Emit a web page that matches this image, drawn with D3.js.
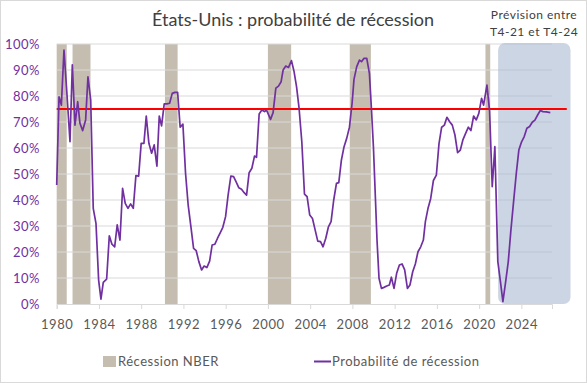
<!DOCTYPE html>
<meta charset="utf-8">
<html>
<head>
<script src="https://d3js.org/d3.v7.min.js"></script>
<style>
  body { margin: 0; background: #fff; }
  svg text { font-family: "Lato", "Open Sans", sans-serif; }
</style>
</head>
<body>
<div id="my_dataviz"></div>
<script>
// quarterly readings: decimal year -> probability (%)
const years = [1980.00,1980.22,1980.44,1980.69,1980.95,1981.26,1981.48,1981.73,1981.99,1982.20,1982.46,1982.74,1982.96,1983.22,1983.46,1983.72,1983.97,1984.19,1984.41,1984.73,1984.98,1985.23,1985.49,1985.73,1985.99,1986.24,1986.49,1986.75,1987.00,1987.25,1987.50,1987.76,1988.00,1988.26,1988.48,1988.73,1988.99,1989.23,1989.49,1989.71,1989.93,1990.18,1990.44,1990.69,1990.94,1991.19,1991.45,1991.69,1991.95,1992.20,1992.45,1992.71,1992.96,1993.21,1993.46,1993.72,1993.96,1994.22,1994.48,1994.72,1994.98,1995.23,1995.48,1995.73,1995.99,1996.23,1996.49,1996.75,1996.99,1997.25,1997.50,1997.75,1997.98,1998.22,1998.48,1998.73,1998.92,1999.17,1999.42,1999.68,1999.87,2000.25,2000.49,2000.75,2001.00,2001.25,2001.44,2001.69,2001.95,2002.23,2002.48,2002.71,2002.95,2003.21,2003.46,2003.71,2003.96,2004.22,2004.47,2004.72,2004.98,2005.22,2005.48,2005.73,2005.98,2006.23,2006.49,2006.71,2006.96,2007.21,2007.46,2007.72,2007.97,2008.15,2008.41,2008.67,2008.86,2009.10,2009.36,2009.61,2009.80,2009.99,2010.18,2010.33,2010.52,2010.75,2010.99,2011.25,2011.50,2011.69,2011.94,2012.19,2012.45,2012.70,2012.95,2013.21,2013.45,2013.71,2013.96,2014.21,2014.47,2014.72,2014.91,2015.16,2015.41,2015.67,2015.95,2016.20,2016.45,2016.71,2016.95,2017.21,2017.46,2017.71,2017.96,2018.22,2018.46,2018.72,2018.98,2019.22,2019.48,2019.73,2019.97,2020.23,2020.42,2020.74,2020.99,2021.24,2021.49,2021.77,2022.00,2022.25,2022.50,2022.76,2023.01,2023.26,2023.52,2023.76,2024.02,2024.27,2024.52,2024.78,2025.03,2025.28,2025.54,2025.79,2026.04,2026.36,2026.74];
const probs = [45.8,79.7,76.5,97.7,82,62.4,92,68.8,77.8,69.5,66.7,70.8,87.4,78.5,36.8,31,9.2,1.9,8.3,9.6,26.2,23,22,30.4,24.6,44.5,38.7,36.8,38.5,36.8,49.4,49.2,61.8,61.8,72.3,61.8,58,61.2,53,72.3,68.5,77,77,77.2,81,81.4,81.4,68,69.2,50.3,38,29.7,21.4,20.5,16.3,13.1,14.6,14,16.5,22.7,23,25.3,27.4,29.5,33.6,41.9,49.2,49,47,44.7,44.1,42.8,41.9,50.5,52.2,56.9,56.4,73.1,74.6,74,74.6,71,73.6,83,83.8,85.5,90,91.5,91,93.6,89.3,83.6,75.3,62.4,42.3,41.3,34.2,32.9,28.5,24.2,24,22,25.3,29.7,31.7,40,46.4,46.7,55.4,60.5,63.7,68,77.2,86.4,91.3,93.8,93.2,94.5,94.5,88.7,75.3,60.5,40.6,24.6,9.9,6,6.4,6.9,7.3,10.3,6,11.8,15,15.4,13.1,6,7.3,12.4,15.4,20.1,22,24.6,31.7,36.8,40.5,47.5,49.6,61.7,68,68.8,71.8,70.1,68.8,65,58.2,59.2,63.1,65.6,68,66.7,72.3,70.8,73.3,79.1,76.5,84.2,74.2,45.1,60.5,16.3,9.2,0.9,8.2,16.3,28.5,39.3,50.3,59.2,62.4,64.4,67.6,68.3,69.9,70.7,72.7,74.4,74,73.9,73.6];

// NBER recessions as drawn (start, end)
const recStart = [1980.0, 1981.5, 1990.25, 2000.0, 2007.75, 2020.6];
const recEnd   = [1980.95, 1983.2, 1991.45, 2002.2, 2009.75, 2021.05];

const threshold = 75;
const forecastStart = 2021.8, forecastEnd = 2028.65;
const yTicks = [0,10,20,30,40,50,60,70,80,90,100];
const xTicks = [1980,1984,1988,1992,1996,2000,2004,2008,2012,2016,2020,2024];

const W = 587, H = 383;
const svg = d3.select("#my_dataviz").append("svg")
    .attr("width", W).attr("height", H);

svg.append("rect").attr("x", 0.5).attr("y", 0.5)
    .attr("width", W - 1).attr("height", H - 1)
    .attr("fill", "#fff").attr("stroke", "#d9d9d9");

const x = d3.scaleLinear().domain([1980, 2026.9]).range([56.7, 552]);
const y = d3.scaleLinear().domain([0, 100]).range([304, 44]);

// recession bars
svg.append("g").selectAll("rect")
  .data(recStart)
  .join("rect")
    .attr("x", (d, i) => x(d))
    .attr("width", (d, i) => x(recEnd[i]) - x(d))
    .attr("y", y(100))
    .attr("height", y(0) - y(100))
    .attr("fill", "#c5bdb0");

// gridlines
svg.append("g").selectAll("line")
  .data(yTicks.slice(1))
  .join("line")
    .attr("x1", x(1980)).attr("x2", x(2026.9))
    .attr("y1", d => y(d)).attr("y2", d => y(d))
    .attr("stroke", "#d9d9d9").attr("stroke-width", 1);

// forecast zone
svg.append("rect")
    .attr("x", x(forecastStart)).attr("width", x(forecastEnd) - x(forecastStart))
    .attr("y", y(100) - 1).attr("height", y(0) - y(100) + 1)
    .attr("rx", 7)
    .attr("fill", "#a9b9d0").attr("opacity", 0.6);

// x axis
const xAxis = svg.append("g")
    .attr("transform", `translate(0,${y(0)})`)
    .call(d3.axisBottom(x).tickValues(xTicks).tickFormat(d3.format("d")).tickSize(5).tickPadding(11));
xAxis.select(".domain").attr("stroke", "#d9d9d9");
xAxis.selectAll(".tick line").attr("stroke", "#d9d9d9");
xAxis.selectAll(".tick text").attr("fill", "#595959").attr("font-size", 13)
    .style("letter-spacing", "0.6px");

// y labels
svg.append("g").selectAll("text")
  .data(yTicks)
  .join("text")
    .attr("x", 40).attr("y", d => y(d)).attr("dy", "0.36em")
    .attr("text-anchor", "end")
    .attr("fill", "#7030a0").attr("font-size", 13)
    .style("letter-spacing", "0.5px")
    .text(d => d + "%");

// threshold line
svg.append("line")
    .attr("x1", x(1980)).attr("x2", x(2028.3))
    .attr("y1", y(threshold)).attr("y2", y(threshold))
    .attr("stroke", "#ff0000").attr("stroke-width", 2);

// probability line
svg.append("path")
    .datum(years.map((d, i) => [d, probs[i]]))
    .attr("fill", "none")
    .attr("stroke", "#7030a0")
    .attr("stroke-width", 1.7)
    .attr("stroke-linejoin", "round")
    .attr("d", d3.line().x(d => x(d[0])).y(d => y(d[1])));

// title
svg.append("text")
    .attr("x", 293).attr("y", 26)
    .attr("text-anchor", "middle")
    .attr("fill", "#404040").attr("font-size", 18)
    .text("États-Unis : probabilité de récession");

svg.append("text")
    .attr("x", 534).attr("y", 19)
    .attr("text-anchor", "middle")
    .attr("fill", "#404040").attr("font-size", 12)
    .style("letter-spacing", "0.5px")
    .text("Prévision entre");
svg.append("text")
    .attr("x", 534).attr("y", 36)
    .attr("text-anchor", "middle")
    .attr("fill", "#404040").attr("font-size", 12)
    .style("letter-spacing", "0.5px")
    .text("T4-21 et T4-24");

// legend
const leg = svg.append("g");
leg.append("rect").attr("x", 103).attr("y", 356).attr("width", 13).attr("height", 11)
    .attr("fill", "#c5bdb0");
leg.append("text").attr("x", 118).attr("y", 366)
    .attr("fill", "#595959").attr("font-size", 13).style("letter-spacing", "0.5px")
    .text("Récession NBER");
leg.append("line").attr("x1", 314).attr("x2", 331).attr("y1", 361.5).attr("y2", 361.5)
    .attr("stroke", "#7030a0").attr("stroke-width", 2);
leg.append("text").attr("x", 332).attr("y", 366)
    .attr("fill", "#595959").attr("font-size", 13).style("letter-spacing", "0.5px")
    .text("Probabilité de récession");
</script>
</body>
</html>
